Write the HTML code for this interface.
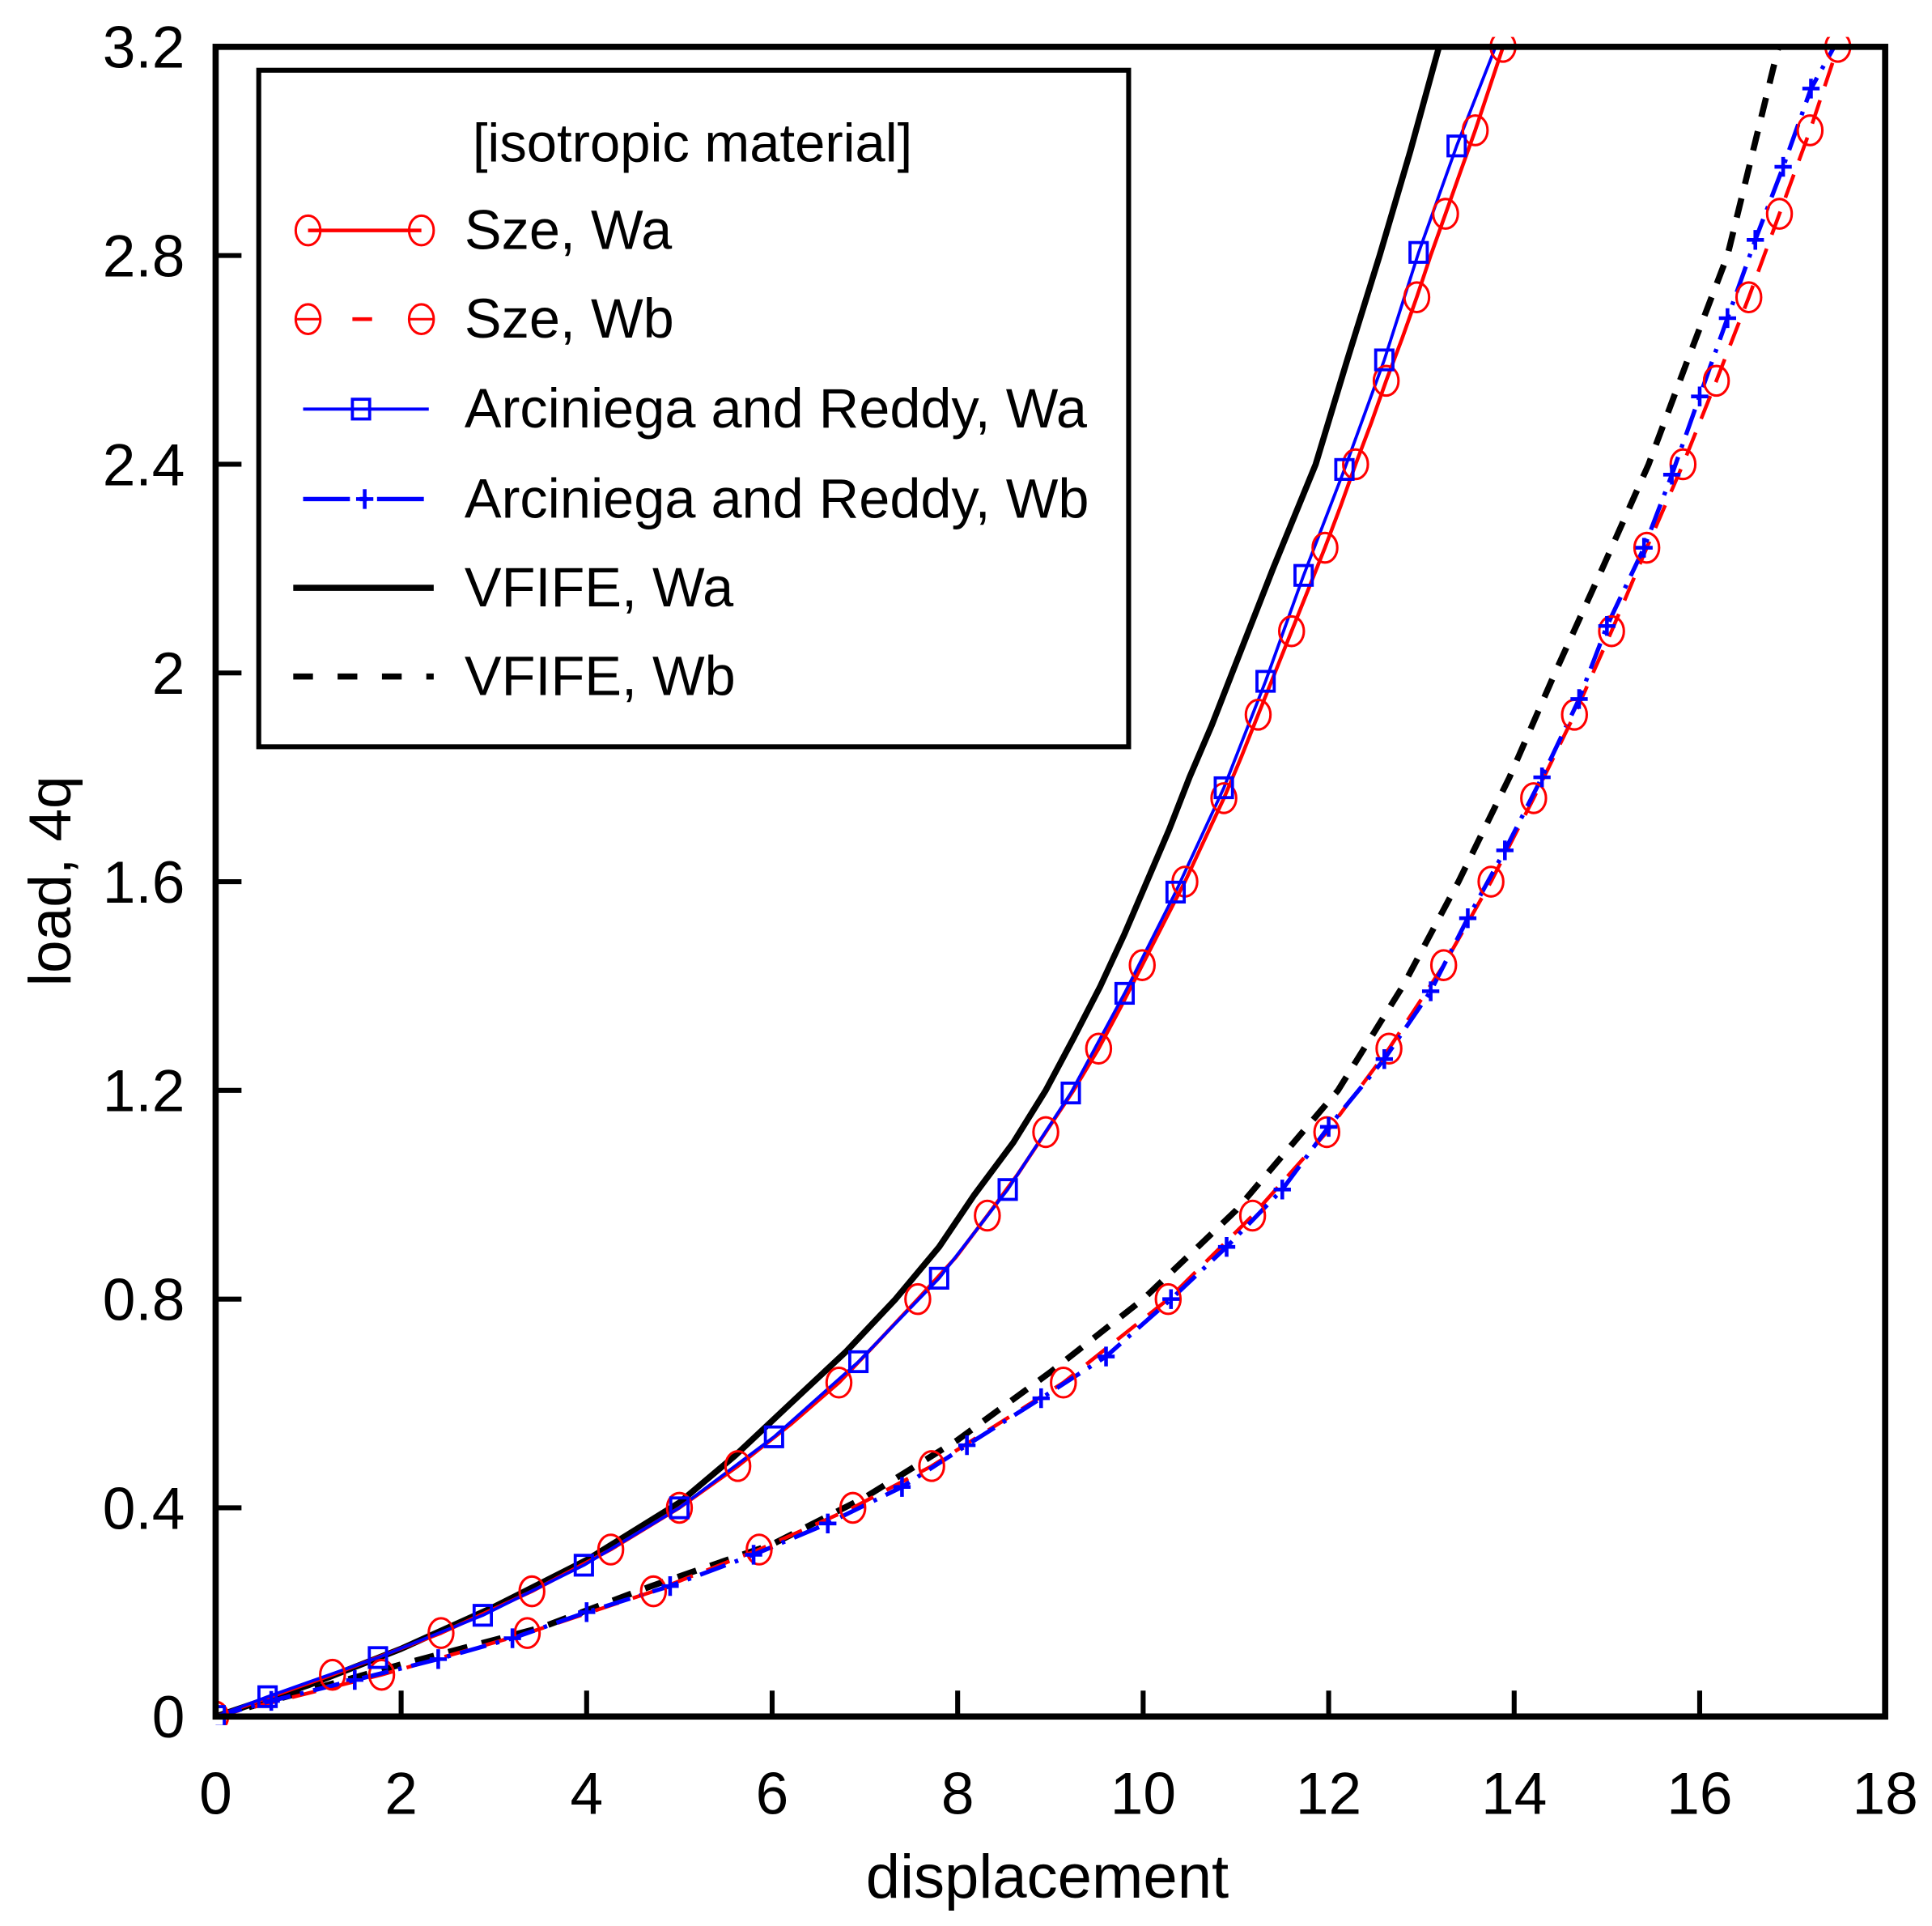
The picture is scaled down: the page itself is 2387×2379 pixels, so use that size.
<!DOCTYPE html>
<html><head><meta charset="utf-8"><style>
html,body{margin:0;padding:0;background:#fff;}
svg{display:block;font-family:"Liberation Sans",sans-serif;}
</style></head><body>
<svg id="chart" width="2387" height="2379" viewBox="0 0 1568 1563" preserveAspectRatio="none" xmlns="http://www.w3.org/2000/svg">
<defs><clipPath id="clip"><rect x="175" y="30" width="1355" height="1370"/></clipPath></defs>
<rect x="0" y="0" width="1568" height="1563" fill="#fff"/>
<g id="marks" clip-path="url(#clip)"></g>
<rect x="175" y="38" width="1355" height="1355" fill="none" stroke="#000" stroke-width="5"/>
<g id="ticks"></g>
<text x="850" y="1540" font-size="50" text-anchor="middle">displacement</text>
<text transform="translate(57 715) rotate(-90)" font-size="48" text-anchor="middle">load, 4q</text>
<g>
<rect x="210" y="57" width="706" height="549" fill="#fff" stroke="#000" stroke-width="4"/>
<text x="562" y="131" font-size="44" text-anchor="middle">[isotropic material]</text>
<g id="legend-entries"></g>
</g>
</svg>
<script>
const NS="http://www.w3.org/2000/svg";
const xTicks=[0,2,4,6,8,10,12,14,16,18];
const yTicks=[0,0.4,0.8,1.2,1.6,2,2.4,2.8,3.2];
const yTickLabels=["0","0.4","0.8","1.2","1.6","2","2.4","2.8","3.2"];
const szeWaX=[0,1.26,2.43,3.41,4.26,5.0,5.63,6.2,6.72,7.15,7.57,7.98,8.32,8.65,8.95,9.25,9.52,9.76,9.99,10.22,10.45,10.66,10.87,11.06,11.24,11.42,11.6,11.78,11.96,12.13,12.29,12.46,12.62,12.79,12.95,13.1,13.26,13.42,13.58,13.73,13.88];
const szeWaY=[0,0.08,0.16,0.24,0.32,0.40,0.48,0.56,0.64,0.72,0.80,0.88,0.96,1.04,1.12,1.20,1.28,1.36,1.44,1.52,1.60,1.68,1.76,1.84,1.92,2.00,2.08,2.16,2.24,2.32,2.40,2.48,2.56,2.64,2.72,2.80,2.88,2.96,3.04,3.12,3.20];
const szeWaMarkX=[0,1.26,2.43,3.41,4.26,5.0,5.63,6.72,7.57,8.32,8.95,9.52,9.99,10.45,10.87,11.24,11.6,11.96,12.29,12.62,12.95,13.26,13.58,13.88];
const szeWaMarkY=[0,0.08,0.16,0.24,0.32,0.40,0.48,0.64,0.80,0.96,1.12,1.28,1.44,1.60,1.76,1.92,2.08,2.24,2.40,2.56,2.72,2.88,3.04,3.20];
const szeWbX=[0,1.79,3.36,4.72,5.86,6.87,7.72,9.14,10.27,11.18,11.98,12.65,13.24,13.75,14.21,14.65,15.05,15.43,15.82,16.18,16.53,16.86,17.19,17.49];
const szeWbY=[0,0.08,0.16,0.24,0.32,0.40,0.48,0.64,0.80,0.96,1.12,1.28,1.44,1.60,1.76,1.92,2.08,2.24,2.40,2.56,2.72,2.88,3.04,3.20];
const arcWaX=[0,0.56,1.75,2.88,3.97,5.0,6.02,6.93,7.8,8.54,9.22,9.8,10.35,10.87,11.32,11.73,12.17,12.6,12.97,13.38,13.8];
const arcWaY=[0,0.038,0.113,0.194,0.29,0.40,0.536,0.68,0.84,1.01,1.195,1.386,1.58,1.78,1.984,2.187,2.39,2.6,2.806,3.01,3.2];
const arcWbX=[0,0.6,1.5,2.4,3.2,4.0,4.9,5.8,6.6,7.4,8.1,8.9,9.6,10.3,10.9,11.5,12.0,12.6,13.1,13.5,13.9,14.3,14.7,15.0,15.4,15.7,16.0,16.3,16.6,16.9,17.2,17.45];
const arcWbY=[0,0.03,0.07,0.11,0.15,0.20,0.25,0.31,0.37,0.44,0.52,0.61,0.69,0.80,0.90,1.01,1.13,1.26,1.39,1.53,1.66,1.80,1.95,2.09,2.24,2.38,2.53,2.68,2.83,2.97,3.12,3.2];
const vfWaX=[0,1,2,3,4,5,5.6,6.2,6.8,7.33,7.8,8.18,8.6,8.95,9.25,9.54,9.8,10.04,10.28,10.5,10.74,10.96,11.4,11.86,12.2,12.55,12.88,13.19];
const vfWaY=[0,0.06,0.13,0.21,0.30,0.41,0.5,0.6,0.7,0.8,0.9,1.0,1.1,1.2,1.3,1.4,1.5,1.6,1.7,1.8,1.9,2.0,2.2,2.4,2.6,2.8,3.0,3.2];
const vfWbX=[0,2,3.5,4.7,6,7,8,9,10,11,12.1,12.8,13.4,13.95,14.44,14.95,15.45,15.87,16.3,16.85];
const vfWbY=[0,0.1,0.17,0.25,0.33,0.42,0.53,0.66,0.8,0.97,1.2,1.4,1.6,1.8,2.0,2.2,2.4,2.6,2.8,3.2];

function sx(v){return 175+(v/18)*1355;}
function sy(v){return 1393-(v/3.2)*1355;}
function mk(tag,attrs,parent){const e=document.createElementNS(NS,tag);for(const k in attrs)e.setAttribute(k,attrs[k]);parent.appendChild(e);return e;}
const marks=document.getElementById('marks');
function line(xs,ys,color,w,dash,name){
  const d=xs.map((x,i)=>(i?'L':'M')+sx(x).toFixed(1)+' '+sy(ys[i]).toFixed(1)).join(' ');
  const p=mk('path',{d:d,fill:'none',stroke:color,'stroke-width':w,'stroke-dasharray':dash||'none','stroke-linejoin':'round'},marks);
  
  
}
function circleMark(g,x,y){mk('ellipse',{cx:x,cy:y,rx:10,ry:12,fill:'none',stroke:'#f00','stroke-width':2},g);}
function squareMark(g,x,y){mk('rect',{x:x-7,y:y-8,width:14,height:16,fill:'none',stroke:'#00f','stroke-width':2.5},g);}
function plusMark(g,x,y){mk('path',{d:`M${x-7} ${y}H${x+7}M${x} ${y-8}V${y+8}`,stroke:'#00f','stroke-width':3},g);}
function markers(xs,ys,fn,name){
  const g=mk('g',{},marks);
  
  
  xs.forEach((x,i)=>fn(g,sx(x),sy(ys[i])));
}
line(vfWaX,vfWaY,'#000',5,null,'vfife-wa-line');
line(vfWbX,vfWbY,'#000',5,'16 12','vfife-wb-line');
line(szeWaX,szeWaY,'#f00',3,null,'sze-wa-line');
line(szeWbX,szeWbY,'#f00',3,'20 12','sze-wb-line');
line(arcWaX,arcWaY,'#00f',2.5,null,'arciniega-wa-line');
line(arcWbX,arcWbY,'#00f',3.5,'22 8 3 8','arciniega-wb-line');
markers(szeWaMarkX,szeWaMarkY,circleMark,'sze-wa-markers');
markers(szeWbX,szeWbY,circleMark,'sze-wb-markers');
markers(arcWaX.slice(0,-1),arcWaY.slice(0,-1),squareMark,'arciniega-wa-markers');
markers(arcWbX.slice(1,-1),arcWbY.slice(1,-1),plusMark,'arciniega-wb-markers');

const ticks=document.getElementById('ticks');
xTicks.forEach((v,i)=>{
  const x=sx(v);
  if(i>0&&i<xTicks.length-1){const t=mk('line',{x1:x,y1:1393,x2:x,y2:1372,stroke:'#000','stroke-width':4},ticks);
  }
  const l=mk('text',{x:x,y:1472,'font-size':48,'text-anchor':'middle'},ticks);
  
  
  l.textContent=String(v);
});
yTicks.forEach((v,i)=>{
  const y=sy(v);
  if(i>0&&i<yTicks.length-1){const t=mk('line',{x1:175,y1:y,x2:196,y2:y,stroke:'#000','stroke-width':4},ticks);
  }
  const l=mk('text',{x:150,y:y+17,'font-size':48,'text-anchor':'end'},ticks);
  
  
  l.textContent=yTickLabels[i];
});

const legendLabels=["Sze, Wa","Sze, Wb","Arciniega and Reddy, Wa","Arciniega and Reddy, Wb","VFIFE, Wa","VFIFE, Wb"];
const lg=document.getElementById('legend-entries');
const rowsY=[187,259,332,405,477,549];
legendLabels.forEach((lab,i)=>{
  const g=mk('g',{},lg);
  
  
  const y=rowsY[i];
  if(i===0){mk('line',{x1:250,y1:y,x2:342,y2:y,stroke:'#f00','stroke-width':3},g);circleMark(g,250,y);circleMark(g,342,y);}
  if(i===1){mk('line',{x1:286,y1:y,x2:302,y2:y,stroke:'#f00','stroke-width':3},g);circleMark(g,250,y);circleMark(g,342,y);mk('line',{x1:240,y1:y,x2:260,y2:y,stroke:'#f00','stroke-width':2},g);mk('line',{x1:332,y1:y,x2:352,y2:y,stroke:'#f00','stroke-width':2},g);}
  if(i===2){mk('line',{x1:246,y1:y,x2:348,y2:y,stroke:'#00f','stroke-width':2.5},g);squareMark(g,293,y);}
  if(i===3){mk('line',{x1:246,y1:y,x2:348,y2:y,stroke:'#00f','stroke-width':3.5,'stroke-dasharray':'38 8 6 8'},g);plusMark(g,296,y);}
  if(i===4){mk('line',{x1:238,y1:y,x2:352,y2:y,stroke:'#000','stroke-width':5},g);}
  if(i===5){mk('line',{x1:238,y1:y,x2:352,y2:y,stroke:'#000','stroke-width':5,'stroke-dasharray':'16 20'},g);}
  const t=mk('text',{x:377,y:y+15,'font-size':45},g);
  t.textContent=lab;
});
</script>
</body></html>
